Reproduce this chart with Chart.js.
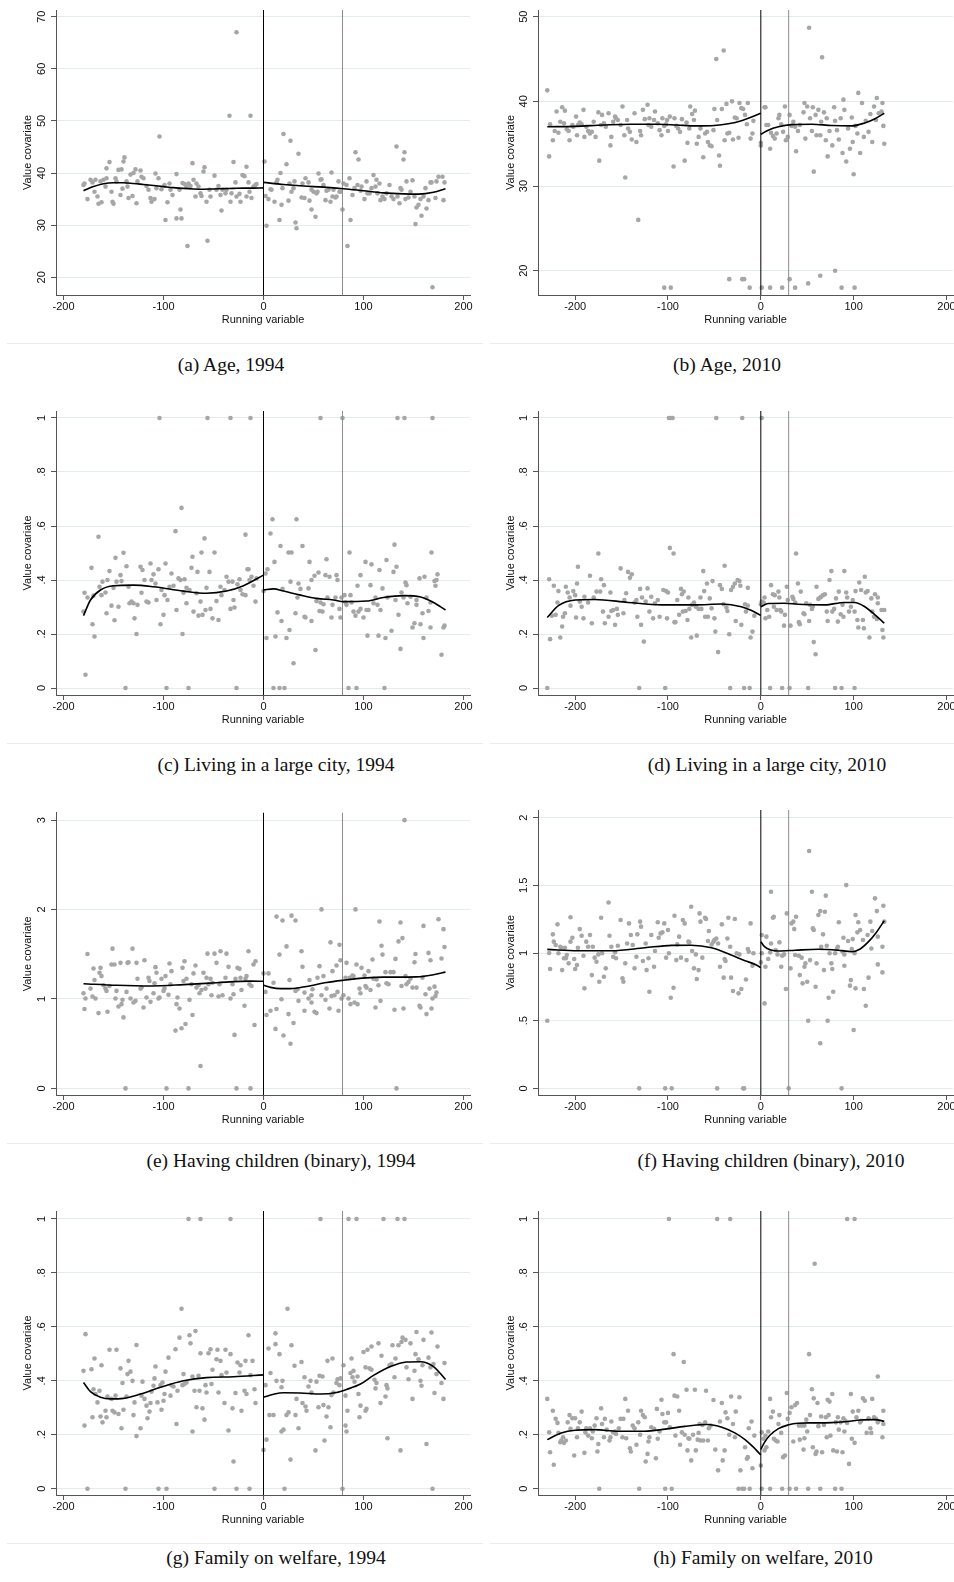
<!DOCTYPE html>
<html>
<head>
<meta charset="utf-8">
<title>Covariate balance around the threshold</title>
<script src="https://cdn.jsdelivr.net/npm/chart.js@4.4.0/dist/chart.umd.min.js"></script>
<style>
  html, body { margin: 0; padding: 0; background: #fff; overflow: hidden; }
  #page { position: relative; width: 954px; height: 1582px; overflow: hidden; background: #fff; }
  .panel { position: absolute; width: 476px; height: 343px; }
  .rule { position: absolute; height: 1px; background: #ebebeb; }
  .caption { position: absolute; font-family: "Liberation Serif", "Times New Roman", serif; font-size: 19.5px;
             line-height: 22px; color: #111; white-space: nowrap; transform: translateX(-50%); }
</style>
</head>
<body>
<div id="page"></div>
<script>
// Shared axis values
const runningTicks = [-200, -100, 0, 100, 200];
const cutoff1994 = 79;   // second reference line, 1994 panels
const cutoff2010 = 30;   // second reference line, 2010 panels

// (a) Age, 1994
const age1994 = [[-180,37.7],[-179,38.0],[-176,35.0],[-173,38.7],[-171,38.2],[-169,36.4],[-168,38.7],[-166,35.5],[-165,34.1],[-163,38.4],[-162,34.4],[-160,38.7],[-158,37.4],[-157,40.9],[-157,39.0],[-154,42.1],[-152,36.4],[-151,34.5],[-150,34.1],[-148,39.0],[-147,38.4],[-145,40.6],[-143,35.8],[-142,40.7],[-141,37.0],[-140,42.2],[-139,43.0],[-137,38.4],[-136,37.4],[-135,35.2],[-133,39.7],[-131,35.6],[-130,40.0],[-128,40.7],[-127,34.2],[-126,38.4],[-123,40.5],[-122,39.3],[-120,39.0],[-117,37.5],[-115,36.8],[-113,35.2],[-112,34.5],[-109,35.0],[-108,39.9],[-107,37.1],[-105,39.0],[-104,47.0],[-102,36.9],[-99,37.7],[-98,31.0],[-96,34.4],[-94,38.0],[-93,36.8],[-91,35.8],[-87,39.8],[-87,31.3],[-84,36.8],[-83,33.0],[-82,31.3],[-81,38.1],[-79,37.9],[-77,37.4],[-76,26.0],[-75,38.0],[-73,37.5],[-71,41.9],[-70,38.7],[-68,35.5],[-67,38.0],[-65,37.4],[-63,36.1],[-62,35.6],[-60,40.3],[-59,41.1],[-57,34.5],[-56,27.0],[-54,36.8],[-53,35.5],[-49,39.5],[-47,36.8],[-45,37.5],[-43,35.8],[-42,32.8],[-41,36.8],[-38,36.1],[-37,36.8],[-34,51.0],[-33,34.5],[-32,36.1],[-30,42.1],[-28,38.2],[-27,67.0],[-27,35.5],[-24,36.0],[-23,34.5],[-21,39.6],[-19,39.4],[-17,35.5],[-17,41.2],[-15,38.2],[-14,36.4],[-13,51.0],[-12,35.2],[-10,37.4],[-8,37.7],[-7,37.9],
  [1,42.2],[2,35.6],[3,29.9],[5,35.0],[7,36.9],[8,36.8],[11,34.5],[13,38.2],[14,38.7],[16,31.0],[17,40.0],[18,33.9],[19,37.1],[20,47.5],[23,41.7],[25,34.7],[26,38.0],[27,46.2],[28,36.4],[30,37.1],[31,38.4],[32,30.5],[33,29.4],[35,43.7],[38,35.3],[39,38.0],[41,35.2],[42,39.0],[45,38.2],[46,34.7],[48,36.8],[48,33.0],[50,36.4],[52,31.6],[53,36.1],[54,36.4],[55,39.9],[57,38.7],[58,38.8],[60,37.7],[62,34.8],[63,36.6],[65,36.8],[67,34.5],[68,40.1],[69,35.5],[70,36.8],[72,35.3],[73,35.5],[75,38.4],[76,36.4],[77,36.4],[79,33.0],[80,38.0],[83,37.7],[84,26.0],[86,39.0],[87,31.0],[89,35.8],[91,37.1],[92,44.0],[94,37.7],[95,42.6],[97,36.6],[98,37.4],[101,35.0],[103,38.4],[104,36.1],[106,36.1],[108,37.1],[110,39.6],[112,37.4],[113,38.7],[114,36.1],[116,38.0],[117,34.8],[119,35.5],[121,35.0],[123,36.1],[126,37.7],[128,35.5],[130,35.0],[133,45.1],[134,35.5],[136,34.2],[137,37.1],[138,36.8],[140,42.6],[141,44.0],[142,35.0],[143,38.4],[145,35.3],[147,36.4],[149,38.6],[151,35.5],[152,30.2],[153,33.4],[155,33.9],[157,35.0],[158,31.8],[160,35.5],[162,37.1],[163,33.2],[165,34.8],[167,38.2],[168,38.2],[169,18.1],[172,35.2],[173,38.4],[175,39.3],[179,39.3],[180,34.8],[181,38.2]];
const age1994FitLeft = [[-180,36.6],[-170,37.4],[-160,37.95],[-150,38.15],[-140,38.15],[-130,38.0],[-120,37.8],[-110,37.6],[-100,37.4],[-90,37.2],[-80,37.05],[-70,36.95],[-60,36.9],[-50,36.95],[-40,37.0],[-30,37.05],[-20,37.1],[-10,37.1],[0,37.15]];
const age1994FitRight = [[0,38.2],[20,37.8],[40,37.5],[60,37.3],[80,37.0],[100,36.6],[120,36.2],[140,36.0],[155,35.95],[170,36.3],[182,37.0]];
const age1994Ticks = [20, 30, 40, 50, 60, 70];

// (b) Age, 2010
const age2010 = [[-230,41.3],[-228,33.5],[-227,37.3],[-224,35.4],[-222,36.5],[-220,38.8],[-218,36.3],[-216,37.6],[-214,39.3],[-212,37.4],[-211,38.9],[-209,36.7],[-207,36.5],[-206,35.4],[-203,37.2],[-202,37.0],[-199,38.2],[-198,36.0],[-197,37.2],[-195,37.5],[-193,37.3],[-191,39.0],[-190,35.8],[-188,37.0],[-186,36.5],[-184,36.2],[-182,36.4],[-180,37.6],[-178,35.8],[-175,38.7],[-174,33.0],[-172,37.2],[-171,38.4],[-169,37.4],[-167,37.0],[-164,38.6],[-162,34.8],[-161,35.8],[-159,37.6],[-157,38.2],[-156,38.0],[-154,37.8],[-151,37.2],[-149,39.4],[-147,36.0],[-146,31.0],[-144,37.8],[-143,36.8],[-141,36.4],[-139,35.5],[-136,38.6],[-134,35.2],[-132,26.0],[-130,36.5],[-129,36.0],[-127,39.0],[-125,37.9],[-122,39.6],[-121,37.2],[-120,38.0],[-118,37.0],[-115,37.8],[-114,38.8],[-111,37.4],[-109,36.6],[-107,36.0],[-106,38.0],[-104,37.1],[-104,18.0],[-102,37.3],[-101,37.8],[-100,36.5],[-98,38.2],[-97,18.0],[-94,32.3],[-93,38.0],[-91,37.1],[-89,36.8],[-87,36.4],[-85,37.9],[-82,33.0],[-80,37.5],[-79,35.1],[-77,36.8],[-76,39.4],[-74,38.5],[-72,37.8],[-71,38.9],[-69,35.0],[-67,35.8],[-65,36.8],[-62,33.4],[-60,36.2],[-58,36.4],[-57,35.2],[-55,34.8],[-53,34.7],[-51,36.6],[-50,39.1],[-48,45.0],[-47,37.8],[-45,33.6],[-44,32.4],[-42,39.1],[-40,46.0],[-39,35.4],[-37,39.7],[-36,36.2],[-34,36.3],[-34,19.0],[-31,40.0],[-30,35.5],[-28,38.1],[-26,38.0],[-24,35.7],[-23,39.8],[-21,39.2],[-20,19.0],[-19,39.1],[-18,19.0],[-17,38.4],[-15,37.3],[-14,39.8],[-12,18.0],[-11,35.6],[-9,36.2],[-8,37.7],[0,35.1],[0,34.8],
  [1,18.0],[4,39.3],[5,39.3],[6,37.2],[8,37.2],[10,34.4],[10,18.0],[11,36.3],[13,35.9],[15,35.6],[17,36.2],[19,38.0],[20,38.4],[22,37.3],[23,18.0],[24,36.4],[26,39.4],[27,35.4],[29,35.8],[31,38.4],[31,19.0],[33,37.1],[35,37.6],[37,37.0],[37,18.0],[38,34.1],[40,36.5],[42,37.2],[46,38.7],[47,39.8],[48,35.6],[50,39.4],[51,18.5],[52,48.7],[53,38.0],[55,36.5],[56,39.3],[57,31.7],[59,38.4],[60,36.0],[62,39.0],[64,36.0],[64,19.4],[65,37.6],[66,45.2],[68,38.7],[70,35.4],[71,38.0],[72,33.5],[74,36.5],[77,34.8],[79,39.3],[80,37.7],[80,20.0],[82,36.6],[84,35.5],[86,38.0],[87,18.0],[88,33.9],[89,40.2],[90,39.0],[92,32.9],[94,36.8],[96,34.4],[98,38.1],[99,35.2],[100,31.4],[101,18.0],[102,37.1],[104,36.2],[105,41.0],[107,33.9],[109,39.8],[111,35.8],[113,37.7],[116,36.4],[118,38.5],[120,35.2],[122,39.4],[124,37.8],[125,40.4],[127,38.6],[130,38.8],[131,39.8],[132,37.1],[133,35.0]];
const age2010FitLeft = [[-230,37.0],[-200,37.05],[-170,37.2],[-140,37.3],[-110,37.3],[-90,37.2],[-70,37.1],[-50,37.15],[-35,37.35],[-20,37.75],[-10,38.15],[0,38.6]];
const age2010FitRight = [[0,36.1],[8,36.6],[19,37.0],[33,37.25],[55,37.3],[76,37.15],[98,37.1],[112,37.45],[123,37.95],[133,38.6]];
const age2010Ticks = [20, 30, 40, 50];

// (c) Living in a large city, 1994
const city1994 = [[-180,0.283],[-179,0.353],[-178,0.049],[-176,0.335],[-172,0.445],[-171,0.236],[-170,0.342],[-169,0.191],[-165,0.560],[-164,0.375],[-162,0.344],[-161,0.394],[-158,0.354],[-157,0.277],[-156,0.400],[-154,0.433],[-152,0.305],[-150,0.371],[-149,0.251],[-148,0.482],[-147,0.394],[-145,0.301],[-143,0.418],[-142,0.396],[-140,0.501],[-138,0],[-137,0.451],[-135,0.375],[-134,0.314],[-132,0.320],[-130,0.314],[-129,0.258],[-127,0.200],[-126,0.308],[-123,0.449],[-122,0.353],[-121,0.437],[-119,0.400],[-117,0.320],[-115,0.317],[-113,0.461],[-112,0.400],[-110,0.421],[-108,0.387],[-107,0.326],[-105,0.440],[-104,1],[-103,0.236],[-102,0.363],[-100,0.271],[-99,0.344],[-98,0.461],[-97,0],[-96,0.326],[-94,0.375],[-92,0.424],[-90,0.379],[-88,0.581],[-87,0.289],[-85,0.406],[-83,0.400],[-82,0.667],[-81,0.200],[-80,0.353],[-79,0.403],[-77,0.371],[-77,0.314],[-75,0],[-74,0.363],[-72,0.445],[-71,0.486],[-70,0.283],[-67,0.351],[-66,0.430],[-65,0.268],[-63,0.320],[-62,0.502],[-61,0.271],[-59,0.554],[-58,0.289],[-57,0.371],[-56,1],[-54,0.430],[-53,0.293],[-51,0.258],[-49,0.502],[-47,0.322],[-45,0.252],[-43,0.375],[-42,0.344],[-39,0.363],[-37,0.412],[-35,0.394],[-33,1],[-33,0.293],[-31,0.394],[-30,0.326],[-29,0.298],[-27,0],[-26,0.384],[-24,0.403],[-23,0.363],[-21,0.347],[-18,0.344],[-18,0.568],[-16,0.440],[-15,0.440],[-14,0.400],[-13,1],[-12,0.412],[-10,0.379],[-8,0.320],[-7,0.406],[0,0.359],[2,0.424],
  [3,0.185],[4,0.440],[7,0.572],[9,0.625],[10,0],[11,0.467],[12,0.191],[14,0.280],[16,0],[17,0.526],[18,0.248],[19,0.367],[21,0],[23,0.185],[25,0.502],[26,0.215],[27,0.394],[28,0.502],[30,0.092],[32,0.277],[33,0.625],[34,0.335],[35,0.387],[37,0.367],[39,0.526],[41,0.264],[42,0.261],[45,0.369],[46,0.467],[48,0.400],[48,0.248],[51,0.416],[52,0.141],[53,0.322],[55,0.428],[56,0.285],[57,0.317],[57,1],[59,0.283],[60,0.310],[62,0.418],[63,0.477],[64,0.335],[66,0.412],[68,0.261],[69,0.308],[72,0.335],[73,0.418],[74,0.400],[76,0.293],[77,0.261],[78,0.335],[79,1],[81,0.344],[82,0.317],[83,0.308],[85,0],[86,0.502],[87,0.344],[88,0.317],[90,0.283],[92,0.268],[93,0],[94,0.379],[95,0.283],[97,0.293],[97,0.418],[100,0.261],[102,0.467],[103,0.289],[104,0.194],[105,0.289],[107,0.381],[108,0.458],[110,0.314],[112,0.335],[114,0.308],[115,0.194],[116,0.437],[117,0.289],[119,0.369],[121,0],[122,0.185],[123,0.474],[124,0.335],[128,0.212],[130,0.430],[131,0.531],[132,0.326],[133,0.449],[134,1],[135,0.271],[137,0.145],[138,0.354],[140,0.335],[141,1],[142,0.391],[143,0.381],[144,0.314],[147,0.338],[149,0.224],[151,0.240],[153,0.308],[153,0.326],[156,0.406],[157,0.236],[159,0.277],[160,0.185],[161,0.412],[163,0.335],[165,0.285],[167,0.317],[167,0.224],[168,0.502],[169,1],[171,0.396],[172,0.379],[173,0.400],[174,0.421],[178,0.123],[180,0.224],[181,0.231]];
const city1994FitLeft = [[-180,0.268],[-173,0.326],[-163,0.363],[-150,0.379],[-130,0.381],[-110,0.375],[-80,0.359],[-57,0.351],[-37,0.359],[-20,0.379],[0,0.418]];
const city1994FitRight = [[0,0.363],[10,0.367],[20,0.359],[37,0.344],[53,0.332],[70,0.326],[80,0.320],[103,0.322],[120,0.335],[140,0.342],[157,0.337],[170,0.317],[182,0.289]];
const shareTicks = [0, 0.2, 0.4, 0.6, 0.8, 1];

// (d) Living in a large city, 2010
const city2010 = [[-230,0],[-228,0.403],[-227,0.181],[-225,0.268],[-223,0.379],[-221,0.271],[-219,0.317],[-218,0.359],[-216,0.187],[-214,0.228],[-213,0.264],[-211,0.277],[-210,0.375],[-208,0.354],[-206,0.335],[-205,0.305],[-202,0.359],[-200,0.344],[-199,0.261],[-198,0.387],[-197,0.449],[-195,0.320],[-193,0.301],[-191,0.258],[-190,0.338],[-186,0.317],[-184,0.416],[-182,0.240],[-180,0.335],[-177,0.357],[-175,0.498],[-173,0.357],[-172,0.403],[-170,0.283],[-169,0.381],[-168,0.240],[-164,0.264],[-162,0.354],[-161,0.285],[-159,0.289],[-157,0.234],[-155,0.293],[-154,0.271],[-151,0.443],[-148,0.277],[-147,0.326],[-145,0.351],[-143,0.430],[-141,0.408],[-139,0.421],[-136,0.317],[-134,0.326],[-133,0.264],[-131,0],[-130,0.367],[-129,0.234],[-128,0.335],[-126,0.172],[-124,0.320],[-122,0.369],[-120,0.283],[-118,0.338],[-116,0.258],[-114,0.314],[-111,0.326],[-109,0.264],[-105,0.363],[-103,0],[-102,0.359],[-101,0.258],[-100,0.354],[-99,1],[-98,0.519],[-98,1],[-96,1],[-95,1],[-94,0.498],[-93,0.244],[-92,0.244],[-90,0.326],[-88,0.271],[-86,0.367],[-85,0.347],[-84,0.283],[-83,0.357],[-81,0.285],[-79,0.252],[-78,0.335],[-77,0.293],[-75,0.187],[-74,0.308],[-72,0.317],[-70,0.301],[-69,0.194],[-67,0.293],[-65,0.335],[-64,0.293],[-62,0.433],[-61,0.359],[-60,0.264],[-58,0.387],[-57,0.264],[-55,0.332],[-53,0.295],[-52,0.396],[-50,0.258],[-49,0.209],[-48,1],[-46,0.133],[-44,0.381],[-42,0.367],[-40,0.310],[-39,0.453],[-37,0.298],[-36,0.285],[-34,0.199],[-33,0],[-32,0.363],[-30,0.375],[-28,0.387],[-27,0.248],[-25,0.400],[-23,0.396],[-22,0.379],[-21,0.234],[-20,1],[-18,0],[-17,0.310],[-16,0.283],[-14,0.305],[-14,0.371],[-12,0],[-11,0.187],[-9,0.209],[-7,0.268],[0,0.310],[1,1],
  [1,0.320],[3,0.317],[4,0.335],[5,0.258],[7,0.289],[9,0.264],[10,0],[11,0.381],[13,0.347],[14,0.301],[15,0.344],[17,0.289],[19,0.357],[20,0.335],[21,0.289],[22,0.283],[23,0],[25,0.231],[26,0.271],[28,0.375],[29,0.326],[31,0],[32,0.231],[34,0.338],[35,0.330],[37,0.317],[38,0.498],[40,0.387],[41,0.244],[42,0.236],[43,0.357],[46,0.277],[47,0.273],[49,0.314],[51,0],[52,0.248],[53,0.308],[55,0.293],[56,0.301],[57,0.170],[59,0.125],[60,0.375],[62,0.330],[64,0.335],[65,0.338],[67,0.344],[69,0.347],[71,0.283],[72,0.248],[74,0.400],[76,0.433],[77,0.283],[79,0.293],[80,0],[81,0.332],[83,0.246],[84,0.357],[86,0.273],[87,0],[88,0.308],[89,0.264],[90,0.433],[92,0.354],[93,0.335],[95,0.283],[97,0.301],[99,0.326],[101,0],[101,0.283],[102,0.359],[104,0.252],[105,0.224],[106,0.391],[108,0.363],[110,0.252],[111,0.221],[112,0.412],[113,0.354],[115,0.359],[117,0.187],[119,0.332],[120,0.283],[122,0.264],[123,0.347],[125,0.256],[126,0.314],[126,0.335],[130,0.289],[131,0.215],[132,0.187],[133,0.289]];
const city2010FitLeft = [[-230,0.261],[-218,0.305],[-200,0.326],[-179,0.328],[-143,0.317],[-107,0.308],[-71,0.308],[-42,0.311],[-21,0.301],[-10,0.287],[0,0.269]];
const city2010FitRight = [[0,0.301],[8,0.313],[26,0.314],[40,0.310],[69,0.308],[90,0.317],[101,0.317],[112,0.301],[123,0.271],[133,0.240]];

// (e) Having children (binary), 1994
const children1994 = [[-180,1.064],[-179,0.887],[-178,1.005],[-176,1.503],[-173,1.116],[-171,1.027],[-170,1.341],[-169,1.212],[-168,1.005],[-165,0.842],[-164,1.293],[-163,1.348],[-162,1.256],[-160,1.153],[-158,1.116],[-157,1.090],[-156,0.857],[-154,1.145],[-152,1.385],[-151,1.563],[-149,1.385],[-148,1.005],[-147,1.090],[-145,0.916],[-143,1.404],[-142,0.942],[-141,0.990],[-140,0.794],[-138,0],[-137,1.079],[-136,1.404],[-135,1.411],[-133,1.005],[-131,1.563],[-130,0.960],[-128,0.979],[-127,1.404],[-126,1.226],[-123,1.116],[-122,1.127],[-120,0.905],[-119,1.433],[-117,1.016],[-115,1.238],[-114,1.201],[-113,0.968],[-110,1.064],[-109,1.175],[-108,1.356],[-107,1.293],[-105,1.005],[-104,1.016],[-102,1.226],[-100,1.090],[-99,1.116],[-98,1.256],[-97,0],[-95,1.046],[-94,1.396],[-93,1.164],[-92,1.311],[-88,0.646],[-87,0.942],[-86,1.016],[-84,0.894],[-82,0.672],[-81,1.348],[-80,1.201],[-79,1.422],[-78,0.720],[-77,1.226],[-75,0],[-74,0.990],[-72,1.164],[-71,0.820],[-70,1.286],[-68,1.374],[-67,1.127],[-65,1.153],[-64,1.064],[-63,0.251],[-62,1.101],[-60,1.293],[-58,1.116],[-57,1.238],[-56,1.507],[-55,1.164],[-53,1.226],[-52,1.042],[-51,1.182],[-49,1.507],[-47,1.404],[-45,1.027],[-44,1.164],[-43,1.533],[-41,1.042],[-38,1.238],[-37,1.507],[-35,1.359],[-33,1.005],[-31,1.164],[-30,1.053],[-29,0.598],[-28,1.226],[-27,0],[-26,1.348],[-24,1.337],[-23,1.238],[-22,1.101],[-19,0.924],[-18,1.226],[-17,1.256],[-15,1.533],[-14,1.164],[-13,0],[-12,1.145],[-10,1.385],[-9,0.709],[-8,1.422],[0,1.286],
  [2,1.079],[3,0.820],[5,1.286],[7,0.868],[10,1.182],[12,0.665],[13,0.887],[13,1.921],[16,1.496],[18,0.997],[19,1.877],[20,0.591],[23,1.588],[25,0.831],[26,1.212],[27,0.499],[28,1.932],[30,0.731],[32,1.090],[32,1.877],[34,1.108],[35,0.979],[38,1.533],[39,1.359],[41,1.071],[41,0.868],[45,1.005],[46,1.212],[48,1.042],[48,0.960],[49,1.108],[51,0.857],[53,0.842],[54,1.238],[56,1.367],[58,2.002],[58,1.042],[60,1.256],[62,0.990],[63,1.116],[66,0.894],[67,1.633],[68,1.034],[69,1.311],[71,1.042],[73,1.374],[74,1.079],[75,0.868],[76,1.607],[77,1.433],[78,1.005],[80,1.042],[82,1.238],[83,1.404],[85,1.005],[86,1.238],[87,0.942],[89,1.263],[90,1.256],[91,0.960],[92,2.002],[93,1.385],[94,0.942],[96,1.116],[97,1.064],[98,1.348],[101,1.263],[102,1.145],[103,1.127],[105,1.311],[107,1.101],[109,1.441],[110,1.226],[112,0.905],[113,1.219],[115,1.153],[116,1.866],[117,0.979],[118,1.596],[119,1.496],[122,1.300],[123,1.175],[125,1.164],[127,1.300],[130,1.300],[131,0.879],[132,1.448],[133,0],[135,1.644],[137,1.855],[138,1.145],[139,1.681],[140,0.894],[141,3],[142,1.256],[143,1.164],[145,1.190],[147,1.226],[149,1.127],[151,1.411],[152,1.503],[153,1.127],[156,0.924],[157,0.905],[159,1.238],[160,1.817],[162,1.053],[163,0.831],[165,1.515],[166,1.116],[167,1.433],[168,0.894],[169,1.005],[171,1.138],[172,1.034],[173,1.071],[175,1.891],[178,1.452],[180,1.781],[181,1.581]];
const children1994FitLeft = [[-180,1.171],[-147,1.153],[-113,1.145],[-80,1.160],[-47,1.182],[-13,1.200],[0,1.198]];
const children1994FitRight = [[0,1.153],[7,1.130],[17,1.116],[27,1.116],[43,1.140],[63,1.185],[80,1.210],[103,1.236],[120,1.244],[153,1.247],[170,1.271],[182,1.300]];
const children1994Ticks = [0, 1, 2, 3];

// (f) Having children (binary), 2010
const children2010 = [[-230,0.5],[-228,1.0],[-227,0.882],[-224,1.138],[-223,1.084],[-221,1.059],[-219,1.212],[-218,0.998],[-216,1.047],[-215,1.039],[-214,0.874],[-212,0.961],[-211,1.039],[-210,0.961],[-209,0.985],[-207,0.924],[-205,1.084],[-205,1.264],[-203,1.113],[-201,0.956],[-200,0.882],[-198,0.911],[-197,1.039],[-195,1.177],[-193,1.128],[-191,0.980],[-190,0.739],[-188,1.084],[-186,1.047],[-184,1.133],[-182,0.837],[-181,1.047],[-179,0.966],[-177,0.936],[-175,0.990],[-174,0.788],[-172,1.261],[-171,0.998],[-169,0.825],[-167,0.887],[-164,1.374],[-163,1.128],[-161,1.047],[-159,0.973],[-157,1.005],[-156,0.961],[-154,1.054],[-151,1.244],[-149,0.813],[-148,0.788],[-146,0.924],[-144,1.071],[-142,1.219],[-140,1.133],[-138,1.059],[-136,0.887],[-134,0.973],[-133,1.138],[-131,0],[-130,1.232],[-129,1.195],[-127,0.941],[-124,1.071],[-123,0.874],[-121,0.961],[-120,0.714],[-118,1.133],[-115,0.899],[-114,1.015],[-111,1.227],[-110,1.113],[-108,1.145],[-106,1.153],[-104,1.219],[-103,0],[-102,0.966],[-100,1.170],[-99,0.998],[-97,0.670],[-96,0],[-94,0.744],[-93,1.276],[-91,0.948],[-90,1.064],[-88,1.121],[-86,0.966],[-84,1.244],[-82,1.219],[-80,0.948],[-78,1.084],[-77,1.079],[-75,1.342],[-74,1.015],[-72,0.887],[-70,0.990],[-69,0.808],[-67,0.874],[-66,1.293],[-65,1.232],[-63,0.966],[-60,1.261],[-59,1.251],[-57,1.089],[-56,1.163],[-53,1.064],[-51,1.084],[-50,1.096],[-48,1.108],[-47,0],[-46,1.071],[-44,0.899],[-42,1.212],[-40,0.818],[-39,0.956],[-38,0.941],[-36,1.108],[-35,1.261],[-33,1.047],[-32,0.818],[-30,0.719],[-28,1.251],[-26,0.998],[-24,0.702],[-23,0.990],[-21,0.734],[-19,0],[-18,0],[-16,0.805],[-14,1.030],[-13,1.010],[-11,1.219],[-9,0.906],[-8,0.998],[0,0.931],[1,1.133],
  [1,0.998],[4,0.628],[5,0.899],[6,1.121],[8,0.956],[10,1.005],[11,1.453],[11,1.071],[13,1.261],[14,1.268],[16,1.022],[18,0.990],[20,1.079],[22,0.899],[23,0.980],[25,0.990],[27,0.734],[28,1.293],[30,0],[32,0.887],[33,1.219],[35,1.232],[36,1.177],[37,0.985],[38,1.268],[41,0.980],[42,0.837],[44,0.966],[45,0.776],[47,0.899],[48,0.924],[50,0.788],[51,0.5],[52,1.754],[53,0.948],[55,1.453],[56,1.182],[57,1.170],[59,0.751],[60,0.924],[62,1.281],[64,1.310],[64,0.333],[65,1.047],[67,1.138],[68,0.874],[69,1.305],[70,1.424],[71,1.054],[72,0.5],[73,0.670],[74,0.998],[76,0.924],[77,0.882],[78,0.714],[80,0.998],[82,1.030],[83,1.047],[84,1.227],[87,0],[88,1.010],[89,1.113],[90,0.906],[90,0.990],[92,1.502],[94,1.089],[96,0.759],[97,0.800],[98,1.030],[99,1.103],[100,0.431],[101,0.998],[102,0.739],[102,1.281],[104,1.153],[105,1.227],[107,1.170],[110,1.096],[111,0.734],[113,0.611],[115,1.133],[116,0.818],[118,1.232],[119,1.034],[120,1.163],[123,1.404],[125,1.310],[126,0.916],[126,1.121],[131,0.857],[131,1.047],[132,1.350],[133,1.232]];
const children2010FitLeft = [[-230,1.027],[-197,1.017],[-161,1.017],[-125,1.039],[-96,1.057],[-75,1.058],[-53,1.039],[-32,0.985],[-17,0.943],[-6,0.916],[0,0.892]];
const children2010FitRight = [[0,1.084],[4,1.047],[11,1.022],[19,1.015],[37,1.021],[62,1.028],[83,1.021],[98,1.010],[107,1.030],[116,1.084],[125,1.158],[133,1.239]];
const children2010Ticks = [0, 0.5, 1, 1.5, 2];

// (g) Family on welfare, 1994
const welfare1994 = [[-180,0.437],[-179,0.234],[-178,0.573],[-176,0],[-172,0.443],[-171,0.265],[-170,0.369],[-169,0.483],[-168,0.351],[-166,0.320],[-164,0.363],[-163,0.268],[-162,0.458],[-161,0.246],[-158,0.289],[-157,0.265],[-156,0.342],[-154,0.515],[-152,0.333],[-151,0.289],[-149,0.283],[-148,0.345],[-147,0.515],[-145,0.277],[-143,0.446],[-142,0.224],[-141,0.392],[-140,0.293],[-138,0],[-137,0.342],[-136,0.425],[-135,0.474],[-133,0.434],[-131,0.400],[-130,0.273],[-129,0.320],[-127,0.533],[-127,0.195],[-123,0.224],[-122,0.345],[-121,0.397],[-119,0.333],[-117,0.308],[-116,0.261],[-114,0.286],[-113,0.318],[-112,0.360],[-110,0.382],[-109,0.409],[-108,0.453],[-106,0.320],[-105,0],[-103,0.384],[-102,0.293],[-101,0.394],[-100,0.326],[-99,0.351],[-98,0.434],[-97,0],[-95,0.486],[-93,0.345],[-92,0.384],[-90,0.379],[-88,0.517],[-87,0.240],[-86,0.363],[-84,0.560],[-82,0.667],[-81,0.384],[-80,0.425],[-79,0.388],[-77,0.394],[-75,1],[-74,0.569],[-73,0.539],[-71,0.212],[-71,0.416],[-69,0.363],[-68,0.585],[-67,0.302],[-65,0.419],[-64,0.363],[-63,0.502],[-63,1],[-61,0.298],[-59,0.256],[-58,0.384],[-57,0.357],[-55,0.502],[-53,0.517],[-52,0.388],[-51,0.441],[-49,0],[-47,0.480],[-46,0.515],[-45,0.357],[-43,0.474],[-42,0.421],[-39,0.318],[-38,0.515],[-37,0.431],[-35,0.216],[-33,1],[-33,0.499],[-31,0.298],[-30,0.101],[-28,0.355],[-27,0],[-26,0.468],[-24,0.431],[-23,0.458],[-22,0.289],[-19,0.363],[-18,0.474],[-17,0.351],[-15,0.569],[-14,0],[-13,0.421],[-11,0.474],[-9,0.369],[-8,0.318],[0,0.144],
  [2,0.384],[3,0.182],[5,0.520],[6,0.273],[7,0.429],[10,0.273],[12,0.536],[12,0.576],[13,0.400],[16,0.499],[18,0.212],[18,0.376],[19,0.400],[20,0.219],[21,0],[23,0.273],[24,0.667],[25,0.283],[27,0.108],[28,0.532],[31,0.456],[32,0.273],[33,0.333],[35,0.224],[38,0.470],[39,0.318],[41,0.413],[42,0.305],[43,0.289],[45,0.379],[47,0.400],[48,0.357],[52,0.142],[53,0.397],[55,0.302],[56,0.419],[57,1],[59,0.416],[60,0.310],[61,0.179],[63,0.268],[64,0.474],[65,0.302],[67,0.228],[68,0.347],[69,0.483],[70,0.357],[73,0.392],[74,0.406],[76,0.384],[77,0.409],[79,0],[80,0.458],[82,0.234],[82,0.345],[83,0.212],[84,0.289],[85,1],[87,0.429],[88,0.483],[89,0.413],[90,0.437],[91,0.397],[93,1],[94,0.416],[95,0.351],[96,0.265],[97,0.308],[100,0.507],[102,0.289],[102,0.450],[103,0.296],[104,0.515],[106,0.446],[108,0.527],[108,0.441],[111,0.404],[112,0.372],[113,0.392],[115,0.539],[117,0.318],[118,0.493],[120,1],[122,0.342],[123,0.384],[124,0.372],[124,0.187],[126,0.458],[128,0.462],[129,0.532],[131,0.413],[132,0.483],[134,1],[135,0.532],[137,0.142],[138,0.544],[139,0.560],[141,1],[142,0.552],[143,0.450],[145,0.406],[147,0.539],[149,0.333],[151,0.437],[152,0.499],[153,0.581],[155,0.480],[157,0.400],[158,0.382],[159,0.458],[160,0.552],[163,0.166],[165,0.486],[167,0.450],[168,0.579],[169,0],[170,0.462],[171,0.355],[173,0.425],[174,0.527],[178,0.392],[180,0.333],[181,0.466]];
const welfare1994FitLeft = [[-180,0.394],[-173,0.360],[-163,0.339],[-153,0.333],[-140,0.335],[-123,0.351],[-103,0.376],[-80,0.400],[-57,0.412],[-30,0.415],[0,0.422]];
const welfare1994FitRight = [[0,0.339],[10,0.350],[20,0.356],[37,0.355],[57,0.351],[73,0.357],[83,0.368],[97,0.388],[110,0.420],[127,0.453],[143,0.470],[157,0.471],[170,0.453],[182,0.405]];

// (h) Family on welfare, 2010
const welfare2010 = [[-230,0.333],[-228,0.209],[-227,0.135],[-224,0.289],[-223,0.089],[-221,0.259],[-219,0.244],[-218,0.207],[-216,0.172],[-215,0.179],[-213,0.191],[-212,0.170],[-210,0.179],[-208,0.246],[-206,0.273],[-205,0.222],[-203,0.261],[-201,0.123],[-200,0.261],[-198,0.191],[-197,0.224],[-195,0.246],[-193,0.286],[-190,0.133],[-189,0.209],[-188,0.224],[-186,0.197],[-184,0.224],[-182,0.187],[-181,0.212],[-179,0.234],[-177,0.261],[-176,0.138],[-175,0.166],[-174,0],[-172,0.298],[-171,0.240],[-169,0.191],[-168,0.259],[-166,0.219],[-163,0.179],[-162,0.191],[-161,0.249],[-159,0.209],[-157,0.212],[-156,0.203],[-153,0.224],[-151,0.259],[-149,0.191],[-148,0.259],[-146,0.333],[-145,0.187],[-143,0.289],[-141,0.150],[-140,0.138],[-138,0.234],[-136,0.224],[-134,0.163],[-132,0.246],[-131,0],[-130,0.200],[-129,0.289],[-127,0.273],[-125,0.265],[-124,0.101],[-122,0.129],[-121,0.175],[-120,0.191],[-118,0.228],[-115,0.222],[-113,0.113],[-112,0.296],[-111,0.185],[-109,0.212],[-107,0.330],[-106,0.277],[-104,0.246],[-103,0],[-102,0.246],[-100,0.281],[-99,1],[-98,0.228],[-96,0],[-94,0.499],[-93,0.345],[-92,0.197],[-90,0.342],[-88,0.289],[-87,0.163],[-85,0.209],[-83,0.470],[-82,0.200],[-80,0.367],[-79,0.142],[-78,0.187],[-77,0.185],[-75,0.105],[-73,0.200],[-71,0.367],[-70,0.142],[-68,0.182],[-67,0.207],[-66,0.240],[-65,0.179],[-63,0.236],[-62,0.179],[-60,0.246],[-59,0.363],[-57,0.179],[-56,0.224],[-54,0.234],[-51,0.329],[-49,0.145],[-47,1],[-46,0.068],[-44,0.249],[-42,0.318],[-41,0.105],[-39,0.142],[-38,0.283],[-36,0.261],[-34,0.200],[-33,1],[-32,0.342],[-30,0.240],[-28,0.191],[-27,0.286],[-24,0],[-23,0.339],[-22,0.068],[-20,0],[-18,0],[-17,0.154],[-15,0.111],[-14,0.117],[-13,0.224],[-12,0],[-10,0.249],[-9,0.076],[-7,0.197],[0,0.086],[1,0.209],[1,0],
  [3,0.185],[4,0.142],[5,0.197],[6,0.154],[8,0.212],[10,0],[10,0.333],[11,0.265],[13,0.286],[14,0.185],[16,0.179],[18,0.175],[19,0.240],[20,0.273],[22,0.207],[23,0],[24,0.117],[26,0.123],[28,0.355],[29,0.259],[31,0],[31,0.281],[33,0.302],[35,0.175],[37,0.310],[38,0],[39,0.318],[41,0.234],[42,0.182],[44,0.234],[46,0.145],[47,0.187],[47,0.234],[49,0.256],[50,0.212],[51,0],[52,0.499],[53,0.273],[55,0.369],[56,0.154],[57,0.335],[58,0.834],[59,0.129],[60,0.138],[61,0.318],[62,0.232],[64,0],[65,0.268],[66,0.135],[68,0.236],[70,0.265],[71,0.191],[72,0.330],[73,0.273],[74,0.323],[75,0.197],[77,0.351],[78,0.142],[80,0],[81,0.246],[82,0.138],[83,0.265],[84,0.219],[86,0.246],[87,0],[88,0.135],[89,0.261],[90,0.212],[91,0.252],[93,1],[93,0.244],[95,0.092],[97,0.351],[98,0.185],[99,0.286],[101,1],[101,0.170],[103,0.265],[105,0.289],[107,0.246],[108,0.252],[110,0.335],[112,0.326],[114,0.207],[116,0.261],[118,0.224],[119,0.207],[120,0.333],[122,0.265],[124,0.259],[126,0.416],[126,0.246],[131,0.191],[132,0.289],[132,0.240]];
const welfare2010FitLeft = [[-230,0.182],[-215,0.207],[-200,0.217],[-179,0.219],[-154,0.213],[-125,0.213],[-103,0.221],[-82,0.231],[-57,0.238],[-42,0.228],[-28,0.207],[-17,0.182],[-8,0.154],[0,0.125]];
const welfare2010FitRight = [[0,0.146],[4,0.172],[10,0.199],[19,0.223],[29,0.236],[40,0.243],[55,0.244],[76,0.245],[90,0.248],[108,0.255],[123,0.256],[133,0.250]];

const panels = [
  { caption: '(a) Age, 1994', capX: 231, pts: age1994, fitL: age1994FitLeft, fitR: age1994FitRight, yTicks: age1994Ticks, yMin: 16.6, yMax: 71.28, cut: cutoff1994, col: 0, row: 0 },
  { caption: '(b) Age, 2010', capX: 727, pts: age2010, fitL: age2010FitLeft, fitR: age2010FitRight, yTicks: age2010Ticks, yMin: 17.13, yMax: 50.79, cut: cutoff2010, col: 1, row: 0 },
  { caption: '(c) Living in a large city, 1994', capX: 276, pts: city1994, fitL: city1994FitLeft, fitR: city1994FitRight, yTicks: shareTicks, yMin: -0.0258, yMax: 1.0258, cut: cutoff1994, col: 0, row: 1 },
  { caption: '(d) Living in a large city, 2010', capX: 767, pts: city2010, fitL: city2010FitLeft, fitR: city2010FitRight, yTicks: shareTicks, yMin: -0.0258, yMax: 1.0258, cut: cutoff2010, col: 1, row: 1 },
  { caption: '(e) Having children (binary), 1994', capX: 281, pts: children1994, fitL: children1994FitLeft, fitR: children1994FitRight, yTicks: children1994Ticks, yMin: -0.074, yMax: 3.085, cut: cutoff1994, col: 0, row: 2 },
  { caption: '(f) Having children (binary), 2010', capX: 771, pts: children2010, fitL: children2010FitLeft, fitR: children2010FitRight, yTicks: children2010Ticks, yMin: -0.049, yMax: 2.057, cut: cutoff2010, col: 1, row: 2 },
  { caption: '(g) Family on welfare, 1994', capX: 276, pts: welfare1994, fitL: welfare1994FitLeft, fitR: welfare1994FitRight, yTicks: shareTicks, yMin: -0.0233, yMax: 1.0296, cut: cutoff1994, col: 0, row: 3 },
  { caption: '(h) Family on welfare, 2010', capX: 763, pts: welfare2010, fitL: welfare2010FitLeft, fitR: welfare2010FitRight, yTicks: shareTicks, yMin: -0.0233, yMax: 1.0296, cut: cutoff2010, col: 1, row: 3 }
];

const AXIS_FONT = '"Liberation Sans", Arial, Helvetica, sans-serif';
const INK = '#111';
const AXIS_GREY = '#555';
const stataLabel = v => String(v).replace(/^0\./, '.').replace(/^-0\./, '-.');
const toXY = arr => arr.map(([x, y]) => ({ x, y }));

const page = document.getElementById('page');
const measure = document.createElement('canvas').getContext('2d');
measure.font = '11px ' + AXIS_FONT;

const captionTops = [354, 754, 1150, 1547];

panels.forEach(p => {
  const left = p.col === 0 ? 7 : 490;
  const top = p.row * 400;
  const xMin = p.col === 0 ? -207.5 : -240;
  const xMax = p.col === 0 ? 206.5 : 207;
  const yAxisWidth = p.col === 0 ? 49 : 48;

  const box = document.createElement('div');
  box.className = 'panel';
  box.style.left = left + 'px';
  box.style.top = top + 'px';
  const canvas = document.createElement('canvas');
  canvas.width = 476;
  canvas.height = 343;
  box.appendChild(canvas);
  page.appendChild(box);

  const rule = document.createElement('div');
  rule.className = 'rule';
  rule.style.left = left + 'px';
  rule.style.top = (top + 343) + 'px';
  rule.style.width = '476px';
  page.appendChild(rule);

  const cap = document.createElement('div');
  cap.className = 'caption';
  cap.textContent = p.caption;
  cap.style.left = p.capX + 'px';
  cap.style.top = captionTops[p.row] + 'px';
  page.appendChild(cap);

  // rotated y labels are centred 14px left of the axis line
  const widest = Math.max(...p.yTicks.map(v => measure.measureText(stataLabel(v)).width));
  const yPad = Math.max(0, 14 - 5 - widest / 2);

  new Chart(canvas, {
    type: 'scatter',
    data: {
      datasets: [
        { type: 'line', data: toXY(p.fitL), borderColor: '#000', borderWidth: 1.6, pointRadius: 0,
          cubicInterpolationMode: 'monotone', fill: false, order: 0 },
        { type: 'line', data: toXY(p.fitR), borderColor: '#000', borderWidth: 1.6, pointRadius: 0,
          cubicInterpolationMode: 'monotone', fill: false, order: 0 },
        { type: 'line', data: [{ x: 0, y: p.yMin }, { x: 0, y: p.yMax }], borderColor: '#000',
          borderWidth: 1, pointRadius: 0, fill: false, order: 1 },
        { type: 'line', data: [{ x: p.cut, y: p.yMin }, { x: p.cut, y: p.yMax }], borderColor: '#8c8c8c',
          borderWidth: 1, pointRadius: 0, fill: false, order: 1 },
        { type: 'scatter', data: toXY(p.pts), backgroundColor: '#a6a6a6', borderWidth: 0,
          pointRadius: 2.3, order: 2 }
      ]
    },
    options: {
      responsive: false,
      animation: false,
      devicePixelRatio: 1,
      events: [],
      layout: { padding: { top: 10, right: 13, left: 0, bottom: 0 } },
      plugins: { legend: { display: false }, tooltip: { enabled: false } },
      scales: {
        x: {
          type: 'linear', min: xMin, max: xMax,
          afterBuildTicks: s => { s.ticks = runningTicks.map(v => ({ value: v })); },
          afterFit: s => { s.height = 48; },
          grid: { drawOnChartArea: false, drawTicks: true, tickLength: 5, tickColor: AXIS_GREY, tickWidth: 1 },
          border: { display: true, color: AXIS_GREY, width: 1 },
          ticks: { padding: 0, color: INK, autoSkip: false, maxRotation: 0, minRotation: 0,
                   font: { family: AXIS_FONT, size: 11 }, callback: v => String(v) },
          title: { display: true, text: 'Running variable', color: INK,
                   font: { family: AXIS_FONT, size: 11 }, padding: { top: 0, bottom: 16 } }
        },
        y: {
          type: 'linear', min: p.yMin, max: p.yMax,
          afterBuildTicks: s => { s.ticks = p.yTicks.map(v => ({ value: v })); },
          afterFit: s => { s.width = yAxisWidth; },
          grid: { color: '#e2ecef', lineWidth: 1, drawTicks: true, tickLength: 5, tickColor: AXIS_GREY, tickWidth: 1 },
          border: { display: true, color: AXIS_GREY, width: 1 },
          ticks: { padding: yPad, color: INK, autoSkip: false, minRotation: 90, maxRotation: 90,
                   crossAlign: 'center', font: { family: AXIS_FONT, size: 11 }, callback: v => stataLabel(v) },
          title: { display: true, text: 'Value covariate', color: INK,
                   font: { family: AXIS_FONT, size: 11 }, padding: { top: 14, bottom: 0 } }
        }
      }
    }
  });
});
</script>
</body>
</html>
